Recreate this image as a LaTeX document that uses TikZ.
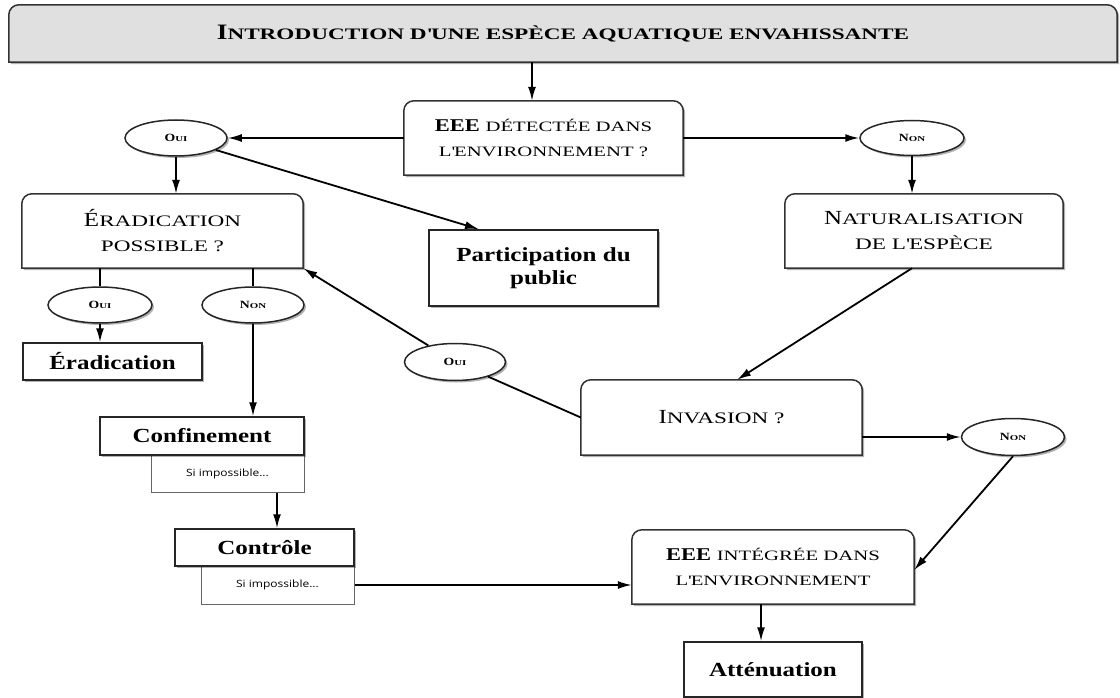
\documentclass[tikz,border=0pt]{standalone}
\usepackage{fontspec}
\setmainfont[FakeStretch=1.25]{Liberation Serif}
\newfontfamily\scfont[FakeStretch=1.45]{Liberation Serif}
\newfontfamily\sifont[FakeStretch=1.2]{Open Sans}
\usetikzlibrary{arrows.meta,shapes.geometric,shadows,backgrounds}
% fake small caps: wide small capitals after a full-size capital
\newcommand\sm[1]{{\scfont\fontsize{14.3}{25}\selectfont #1}}
\newcommand\bsm[1]{{\scfont\fontsize{16}{25}\selectfont #1}}
\newcommand\tsm[1]{{\scfont\bfseries\fontsize{16}{20}\selectfont #1}}
\newcommand\osm[1]{{\scfont\bfseries\fontsize{7.5}{9}\selectfont #1}}
\newcommand\rtb[2][white]{%
  \filldraw[boxline, fill=#1, shad] (#2.south west) -- ([yshift=-10pt]#2.north west)
    arc[start angle=180,end angle=90,radius=10pt] -- ([xshift=-10pt]#2.north east)
    arc[start angle=90,end angle=0,radius=10pt] -- (#2.south east) -- cycle;}
\tikzset{
  arr/.style={-{Latex[length=14pt,width=8pt]}, line width=1.8pt},
  ln/.style={line width=1.8pt},
  boxline/.style={draw=black!80, line width=1.5pt},
  shad/.style={drop shadow={shadow xshift=2pt, shadow yshift=-2pt, opacity=0.3, fill=black}},
  rbox/.style={rectangle, inner sep=0, align=center, font=\fontsize{18}{25}\selectfont},
  qbox/.style={rectangle, inner sep=0, align=center, font=\fontsize{20}{25}\selectfont},
  sqbox/.style={rectangle, draw=black!85, line width=1.5pt, fill=white, shad, inner sep=0, align=center, font=\fontsize{20}{23}\selectfont\bfseries},
  sibox/.style={rectangle, draw=black!60, line width=1pt, fill=white, inner sep=0, font=\sifont\fontsize{10}{12}\selectfont},
  oval/.style={ellipse, draw=black!85, line width=1.5pt, fill=white, shad, inner sep=0, font=\fontsize{11}{12}\selectfont\bfseries},
}
\begin{document}
\begin{tikzpicture}[x=1pt,y=-1pt]
\useasboundingbox (0,0) rectangle (1120,698);
% rounded-top boxes (text only, outlines on background)
\node[rbox, minimum width=1108pt, minimum height=57pt] (title) at (563,33.5)
  {\fontsize{22}{25}\selectfont\bfseries I\tsm{NTRODUCTION D\textquotesingle UNE ESPÈCE AQUATIQUE ENVAHISSANTE}};
\node[rbox, minimum width=279pt, minimum height=74pt] (det) at (543.5,138)
  {\textbf{EEE} \sm{DÉTECTÉE DANS}\\\sm{L\textquotesingle ENVIRONNEMENT ?}};
\node[qbox, minimum width=281pt, minimum height=74pt] (erp) at (162.5,231)
  {É\bsm{RADICATION}\\\bsm{POSSIBLE ?}};
\node[qbox, minimum width=278pt, minimum height=74pt] (nat) at (924,231)
  {N\bsm{ATURALISATION}\\\bsm{DE L\textquotesingle ESPÈCE}};
\node[qbox, minimum width=281pt, minimum height=75pt] (inv) at (721.5,417.5)
  {I\bsm{NVASION ?}};
\node[rbox, minimum width=282pt, minimum height=74pt] (int) at (773,567)
  {\textbf{EEE} \sm{INTÉGRÉE DANS}\\\sm{L\textquotesingle ENVIRONNEMENT}};
\begin{scope}[on background layer]
  \rtb[black!12]{title}
  \rtb{det}
  \rtb{erp}
  \rtb{nat}
  \rtb{inv}
  \rtb{int}
\end{scope}
% square boxes
\node[sqbox, minimum width=229pt, minimum height=76pt] (part) at (543.5,268) {Participation du\\public};
\node[sqbox, minimum width=179pt, minimum height=37pt] (erad) at (112.5,361.5) {Éradication};
\node[sibox, minimum width=153pt, minimum height=37pt] (si1) at (227.5,473.5) {Si impossible...};
\node[sqbox, minimum width=204pt, minimum height=38pt] (conf) at (202,436) {Confinement};
\node[sibox, minimum width=153pt, minimum height=38pt] (si2) at (277.5,585) {Si impossible...};
\node[sqbox, minimum width=179pt, minimum height=37pt] (ctrl) at (264.5,547.5) {Contrôle};
\node[sqbox, minimum width=178pt, minimum height=55pt] (att) at (773,669.5) {Atténuation};
% ovals
\node[oval, minimum width=102pt, minimum height=36pt] (oui1) at (176,138) {O\osm{UI}};
\node[oval, minimum width=104pt, minimum height=35pt] (non1) at (912,138) {N\osm{ON}};
\node[oval, minimum width=104pt, minimum height=36pt] (oui2) at (100,305) {O\osm{UI}};
\node[oval, minimum width=102pt, minimum height=36pt] (non2) at (253,305) {N\osm{ON}};
\node[oval, minimum width=101pt, minimum height=37pt] (oui3) at (455,362) {O\osm{UI}};
\node[oval, minimum width=103pt, minimum height=37pt] (non3) at (1013,437) {N\osm{ON}};
% connectors
\draw[arr] ([xshift=-31pt]title.south) -- ([xshift=-11.5pt]det.north);
\draw[arr] (det.west) -- (oui1.east);
\draw[arr] (det.east) -- (non1.west);
\draw[arr] (oui1.south) -- (oui1.south |- erp.north);
\draw[arr] (oui1) -- ([xshift=-64.5pt]part.north);
\draw[arr] (non1.south) -- (non1.south |- nat.north);
\draw[ln] (oui2.north |- erp.south) -- (oui2.north);
\draw[ln] (non2.north |- erp.south) -- (non2.north);
\draw[arr] (oui2.south) -- (oui2.south |- erad.north);
\draw[arr] (non2.south) -- (non2.south |- conf.north);
\draw[arr] ([xshift=49.5pt]si1.south) -- ([xshift=12.5pt]ctrl.north);
\draw[arr] (si2.east) -- (si2.east -| int.west);
\draw[arr] ([xshift=-12pt]int.south) -- ([xshift=-12pt]att.north);
\draw[arr] ([xshift=-12pt]nat.south) -- ([xshift=15.5pt]inv.north);
\draw[ln] (inv.west) -- (oui3);
\draw[arr] (oui3) -- (erp.south east);
\draw[arr] ([yshift=-19.5pt]inv.east) -- (non3.west);
\draw[arr] (non3.south) -- ([yshift=-3pt]int.east);
\end{tikzpicture}
\end{document}
